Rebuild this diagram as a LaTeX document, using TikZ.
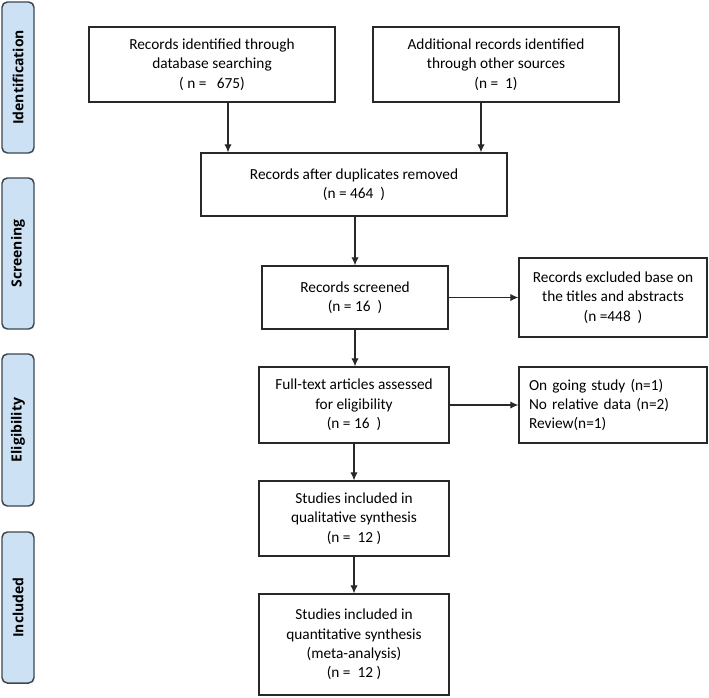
\documentclass[tikz,border=0pt]{standalone}
\usepackage{fontspec}
\setmainfont{Carlito}
\newfontfamily\phasefont{Open Sans}
\usetikzlibrary{arrows.meta}
\definecolor{phasefill}{RGB}{204,225,244}
\definecolor{phaseline}{RGB}{60,70,80}
\definecolor{boxline}{RGB}{40,40,40}
\tikzset{
  box/.style={draw=boxline, line width=1pt, fill=white, align=center, inner sep=2pt,
    font=\fontsize{11.5}{14.5}\selectfont},
  phase/.style={draw=phaseline, line width=1.1pt, fill=phasefill, rounded corners=4pt,
    rotate=90, minimum height=24pt, inner sep=0pt,
    font=\phasefont\bfseries\fontsize{10.5}{12}\selectfont},
  arr/.style={draw=boxline, line width=0.9pt, -{Latex[length=6pt,width=5.5pt]}}
}
\begin{document}
\begin{tikzpicture}[x=0.75pt,y=-0.75pt]
\useasboundingbox (0,0) rectangle (709,697);
% phase bars
\node[phase, minimum width=113.25pt] (ph1) at (18,77.5) {Identification};
\node[phase, minimum width=113.25pt] (ph2) at (18,253.5) {Screening};
\node[phase, minimum width=114pt] (ph3) at (18,430) {Eligibility};
\node[phase, minimum width=113.25pt] (ph4) at (18,607.5) {Included};
% boxes
\node[box, minimum width=184.5pt, minimum height=56.25pt] (b1) at (212,64.5)
  {Records identified through\\database searching\\( n = ~~675)};
\node[box, minimum width=184.5pt, minimum height=56.25pt] (b2) at (496,64.5)
  {Additional records identified\\through other sources\\(n = ~1)};
\node[box, minimum width=229.5pt, minimum height=47.25pt] (b3) at (354,184.5)
  {Records after duplicates removed\\(n = 464 ~)};
\node[box, minimum width=139.5pt, minimum height=47.25pt] (b4) at (355,297.5)
  {Records screened\\(n = 16 ~)};
\node[box, minimum width=141pt, minimum height=59.25pt] (b5) at (613,297.5)
  {Records excluded base on\\the titles and abstracts\\(n =448 ~)};
\node[box, minimum width=142.5pt, minimum height=57pt] (b6) at (354,405)
  {Full-text articles assessed\\for eligibility\\(n = 16 ~)};
\node[box, minimum width=141pt, minimum height=57pt, text width=126pt, align=left] (b7) at (613,405)
  {On going study (n=1)\\No relative data (n=2)\\Review(n=1)};
\node[box, minimum width=142.5pt, minimum height=56.25pt] (b8) at (354,518.5)
  {Studies included in\\qualitative synthesis\\(n = ~12 )};
\node[box, minimum width=142.5pt, minimum height=75.75pt] (b9) at (354,644.5)
  {Studies included in\\quantitative synthesis\\(meta-analysis)\\(n = ~12 )};
% connectors
\draw[arr] ([xshift=12pt]b1.south) -- ([xshift=12pt]b1.south |- b3.north);
\draw[arr] ([xshift=-11.25pt]b2.south) -- ([xshift=-11.25pt]b2.south |- b3.north);
\draw[arr] (b3.south -| b4.north) -- (b4.north);
\draw[arr] (b4.east) -- (b4.east -| b5.west);
\draw[arr] (b4.south) -- (b4.south |- b6.north);
\draw[arr] (b6.east) -- (b6.east -| b7.west);
\draw[arr] (b6.south) -- (b8.north);
\draw[arr] (b8.south) -- (b9.north);
\end{tikzpicture}
\end{document}
